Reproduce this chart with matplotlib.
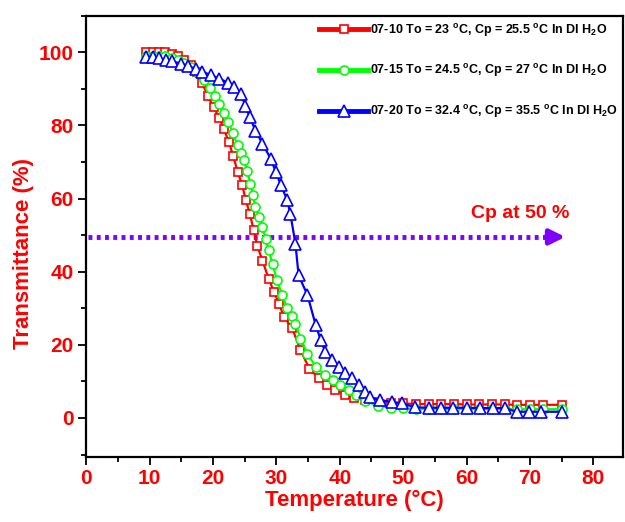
"""Transmittance vs temperature for three 07-series samples in DI water."""

import matplotlib
matplotlib.use("Agg")
import matplotlib.pyplot as plt
from matplotlib.ticker import MultipleLocator

plt.rcParams["font.family"] = ["Liberation Sans", "DejaVu Sans"]
plt.rcParams["font.weight"] = "bold"
plt.rcParams["mathtext.default"] = "regular"

# 07-10 (red squares)
x_0710 = [9.5, 10.5, 11.5, 12.5, 13.5, 14.5, 15.5, 16.5, 17.5, 18.3, 19.2, 20.1,
          21.0, 21.7, 22.5, 23.2, 23.9, 24.6, 25.2, 25.8, 26.4, 27.0, 27.8, 28.8,
          29.6, 30.4, 31.2, 32.5, 33.8, 35.2, 36.7, 38.0, 39.3, 40.8, 42.3, 44.0,
          46.0, 48.0, 50.0, 52.0, 54.0, 56.0, 58.0, 60.0, 62.0, 64.0, 66.0, 68.0,
          70.0, 72.0, 75.0]
y_0710 = [100.0, 100.0, 100.0, 100.0, 99.6, 99.0, 98.0, 96.5, 94.5, 91.5, 88.0, 85.0,
          82.0, 79.0, 75.5, 71.5, 67.3, 63.6, 59.5, 55.8, 51.5, 47.0, 43.0, 38.0,
          34.5, 31.3, 27.6, 24.5, 18.5, 13.5, 10.8, 9.0, 7.6, 6.4, 5.5, 4.8,
          4.4, 4.2, 4.0, 3.8, 3.8, 3.8, 3.8, 3.7, 3.7, 3.7, 3.7, 3.6,
          3.6, 3.6, 3.6]

# 07-15 (green circles)
x_0715 = [9.5, 10.5, 11.5, 12.5, 13.5, 14.5, 15.5, 16.5, 17.5, 18.5, 19.5, 20.3,
          21.0, 21.7, 22.4, 23.1, 23.9, 24.4, 24.9, 25.4, 25.9, 26.3, 26.7, 27.3,
          27.8, 28.3, 28.8, 29.4, 30.1, 30.9, 31.7, 32.4, 33.0, 33.8, 34.9, 36.2,
          37.7, 39.0, 40.1, 41.4, 42.5, 44.0, 46.0, 48.0, 50.0, 52.0, 54.0, 56.0,
          58.0, 60.0, 62.0, 64.0, 66.0, 68.0, 70.0, 72.0, 75.0]
y_0715 = [99.0, 99.0, 99.0, 99.0, 98.5, 98.0, 97.0, 96.0, 94.5, 92.5, 90.3, 88.0,
          85.8, 83.5, 81.0, 78.0, 74.5, 72.5, 70.4, 67.5, 64.0, 61.0, 57.6, 55.0,
          52.2, 49.0, 45.8, 42.0, 37.6, 33.6, 30.0, 28.0, 25.8, 21.7, 17.6, 14.0,
          11.7, 10.4, 9.0, 7.6, 6.3, 4.6, 3.4, 2.8, 2.6, 2.5, 2.5, 2.5,
          2.5, 2.5, 2.5, 2.5, 2.5, 2.4, 2.4, 2.4, 2.4]

# 07-20 (blue triangles)
x_0720 = [9.4, 10.5, 11.5, 12.6, 13.6, 14.9, 16.0, 17.3, 18.3, 19.7, 21.0, 22.3,
          23.3, 24.4, 25.1, 25.8, 26.7, 27.8, 29.1, 29.9, 30.7, 31.7, 32.2, 33.0,
          33.5, 34.9, 36.2, 37.0, 37.7, 38.8, 39.8, 40.9, 41.9, 43.0, 44.0, 44.8,
          46.4, 48.2, 49.8, 51.9, 54.0, 56.0, 57.9, 60.0, 62.1, 64.1, 66.0, 67.9,
          69.8, 71.8, 75.0]
y_0720 = [98.6, 98.6, 98.3, 97.9, 97.5, 96.9, 96.3, 95.4, 94.7, 93.7, 92.8, 91.7,
          90.4, 88.6, 85.4, 82.2, 78.6, 75.0, 70.9, 67.3, 63.7, 59.6, 55.8, 47.7,
          39.0, 33.6, 25.4, 21.3, 18.1, 15.8, 14.0, 12.2, 10.8, 9.0, 7.2, 5.6,
          4.9, 4.4, 4.0, 2.9, 2.8, 2.8, 2.8, 2.8, 2.7, 2.7, 2.7, 1.7,
          1.7, 1.7, 1.7]

labels = [
    r"07-10 To = 23 $^{o}$C, Cp = 25.5 $^{o}$C In DI H$_{2}$O",
    r"07-15 To = 24.5 $^{o}$C, Cp = 27 $^{o}$C In DI H$_{2}$O",
    r"07-20 To = 32.4 $^{o}$C, Cp = 35.5 $^{o}$C In DI H$_{2}$O",
]

CP_LEVEL = 50
ARROW_END = 76

fig = plt.figure(figsize=(6.25, 5.22), dpi=100)
ax = fig.add_axes([0.138, 0.125, 0.859, 0.845])

ax.plot(x_0710, y_0710, color="#FF0000", lw=1.6, marker="s", ms=5.5,
        mfc="white", mec="#FF0000", mew=1.2, label=labels[0], zorder=3)
ax.plot(x_0715, y_0715, color="#00FF00", lw=1.6, marker="o", ms=6.5,
        mfc="white", mec="#00FF00", mew=1.2, label=labels[1], zorder=4)
ax.plot(x_0720, y_0720, color="#0000FF", lw=1.6, marker="^", ms=8,
        mfc="white", mec="#0000FF", mew=1.2, label=labels[2], zorder=5)

# Cp at 50 % arrow
ax.plot([0.3, ARROW_END - 3], [CP_LEVEL - 0.5, CP_LEVEL - 0.5], color="#8000FF",
        lw=3.5, ls=(0, (0.8, 0.9)), zorder=2)
ax.annotate("", xy=(ARROW_END, CP_LEVEL - 0.5), xytext=(ARROW_END - 4, CP_LEVEL - 0.5),
            arrowprops=dict(arrowstyle="-|>,head_length=0.9,head_width=0.45",
                            color="#8000FF", lw=3.5), zorder=2)
ax.text(68.4, 56, "Cp at 50 %", color="#FF0000", fontsize=14, fontweight="bold",
        ha="center", va="center")

ax.set_xlim(0, 84.7)
ax.set_ylim(-10.6, 110)
ax.xaxis.set_major_locator(MultipleLocator(10))
ax.xaxis.set_minor_locator(MultipleLocator(5))
ax.yaxis.set_major_locator(MultipleLocator(20))
ax.yaxis.set_minor_locator(MultipleLocator(10))
ax.tick_params(which="major", direction="out", length=6, width=1.3, pad=3,
               labelsize=15, labelcolor="#FF0000")
ax.tick_params(which="minor", direction="out", length=3.5, width=1.3)
for lab in ax.get_xticklabels() + ax.get_yticklabels():
    lab.set_fontweight("bold")
for sp in ax.spines.values():
    sp.set_linewidth(1.6)

ax.set_xlabel("Temperature (°C)", color="#FF0000", fontsize=16, fontweight="bold",
              labelpad=1)
ax.set_ylabel("Transmittance (%)", color="#FF0000", fontsize=16, fontweight="bold")
ax.yaxis.set_label_coords(-0.097, 0.46)

leg = ax.legend(loc="upper left", bbox_to_anchor=(0.413, 1.012), frameon=False,
                handlelength=3.9, handletextpad=0.2, labelspacing=1.9,
                prop={"weight": "bold", "size": 9})
for line in leg.get_lines():
    line.set_linewidth(3.5)

fig.savefig("out.png", dpi=100)
